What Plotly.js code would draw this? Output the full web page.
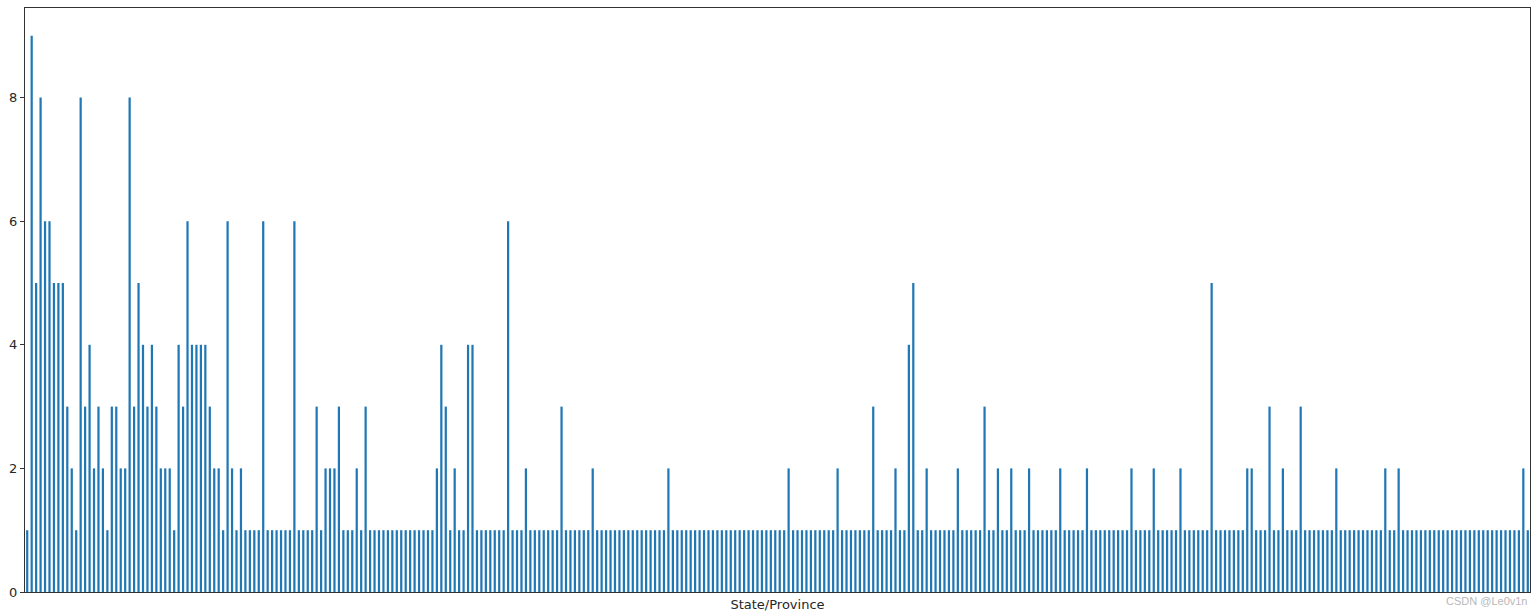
<!DOCTYPE html>
<html>
<head>
<meta charset="utf-8">
<script src="https://cdn.plot.ly/plotly-3.0.1.min.js"></script>
<style>
  html, body { margin: 0; padding: 0; background: #ffffff; }
  #chart { width: 1540px; height: 613px; }
</style>
</head>
<body>
<div id="chart"></div>
<script>
// Counts per State/Province, read left to right from the reference
const countsA = [1,9,5,8,6,6,5,5,5,3,2,1,8,3,4,2,3,2,1,3,3,2,2,8,3,5,4,3,4];
const countsB = [3,2,2,2,1,4,3,6,4,4,4,4,3,2,2,1,6,2,1,2,1,1,1,1,6,1,1,1];
const countsC = [1,1,1,6,1,1,1,1,3,1,2,2,2,3,1,1,1,2,1,3,1,1,1,1,1,1,1,1];
const countsD = [1,1,1,1,1,1,1,2,4,3,1,2,1,1,4,4,1,1,1,1,1,1,1,6,1,1,1,2];
const countsE = [1,1,1,1,1,1,1,3,1,1,1,1,1,1,2,1,1,1,1,1,1,1,1,1,1,1,1,1,1];
const countsF = [1,1,2,1,1,1,1,1,1,1,1,1,1,1,1,1,1,1,1,1,1,1,1,1,1,1,1,1];
const countsG = [1,2,1,1,1,1,1,1,1,1,1,1,2,1,1,1,1,1,1,1,3,1,1,1,1,2,1,1,4];
const countsH = [5,1,1,2,1,1,1,1,1,1,2,1,1,1,1,1,3,1,1,2,1,1,2,1,1,1,2,1];
const countsI = [1,1,1,1,1,2,1,1,1,1,1,2,1,1,1,1,1,1,1,1,1,2,1,1,1,1,2,1];
const countsJ = [1,1,1,1,2,1,1,1,1,1,1,5,1,1,1,1,1,1,1,2,2,1,1,1,3,1,1,2];
const countsK = [1,1,1,3,1,1,1,1,1,1,1,2,1,1,1,1,1,1,1,1,1,1,2,1,1,2,1,1,1];
const countsL = [1,1,1,1,1,1,1,1,1,1,1,1,1,1,1,1,1,1,1,1,1,1,1,1,2,1];

const counts = [].concat(countsA, countsB, countsC, countsD, countsE, countsF,
                         countsG, countsH, countsI, countsJ, countsK, countsL);
// Category names are not shown in the reference (tick labels hidden)
const categories = counts.map((_, i) => 'State ' + (i + 1));

const yTicks = [0, 2, 4, 6, 8];
const xTitle = 'State/Province';
const watermark = 'CSDN @Le0v1n';

const trace = {
  type: 'bar',
  x: categories,
  y: counts,
  width: 0.5,
  marker: { color: '#1f77b4', line: { width: 0 } },
  hoverinfo: 'x+y'
};

const layout = {
  width: 1540,
  height: 613,
  margin: { l: 25, r: 10, t: 8, b: 21, pad: 0 },
  paper_bgcolor: '#ffffff',
  plot_bgcolor: '#ffffff',
  showlegend: false,
  xaxis: {
    type: 'category',
    range: [-0.5, counts.length - 0.5],
    showticklabels: false,
    ticks: '',
    showgrid: false,
    zeroline: false,
    showline: true,
    mirror: true,
    linecolor: '#333333',
    linewidth: 1,
    title: { text: xTitle, standoff: 7, font: { family: 'DejaVu Sans', size: 13, color: '#262626' } },
    automargin: false
  },
  yaxis: {
    range: [0, 9.45],
    tickvals: yTicks,
    ticktext: yTicks.map(String),
    ticks: 'outside',
    ticklen: 4,
    tickwidth: 1,
    tickcolor: '#333333',
    tickfont: { family: 'DejaVu Sans', size: 13, color: '#262626' },
    showgrid: false,
    zeroline: false,
    showline: true,
    mirror: true,
    linecolor: '#333333',
    linewidth: 1,
    automargin: false
  },
  annotations: [{
    text: watermark,
    xref: 'paper', yref: 'paper',
    x: 1, y: 0,
    xanchor: 'right', yanchor: 'top',
    xshift: -1, yshift: -1,
    showarrow: false,
    font: { family: 'Liberation Sans', size: 11, color: '#b8b8b8' }
  }]
};

Plotly.newPlot('chart', [trace], layout, { displayModeBar: false, staticPlot: true });
</script>
</body>
</html>
